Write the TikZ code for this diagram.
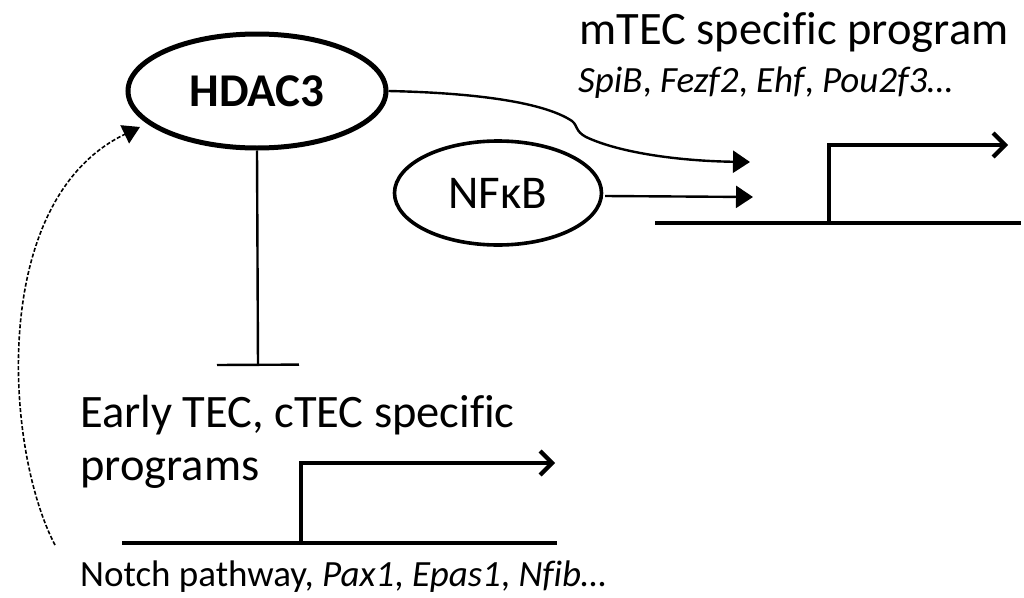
\documentclass[tikz,border=0pt]{standalone}
\usepackage{fontspec}
\setmainfont{Carlito}[Ligatures=NoCommon]
\usetikzlibrary{arrows.meta,shapes.geometric}
\begin{document}
\begin{tikzpicture}[x=1pt,y=-1pt,
  txt/.style={inner sep=0pt,anchor=base west},
  big/.style={font=\fontsize{46.5}{53}\selectfont},
  small/.style={font=\fontsize{37}{42}\selectfont\itshape},
  oval/.style={draw,ellipse,inner sep=0pt},
  act/.style={line width=2.4pt,-{Triangle[length=17pt,width=22pt]}},
  inhib/.style={line width=2.4pt,-{Bar[width=82pt]}},
  gene/.style={line width=4.2pt},
  prom/.style={line width=4.2pt,-{Straight Barb[length=12pt,width=24pt,line width=4.2pt]}},
  fb/.style={line width=1.6pt,dash pattern=on 4pt off 2pt,-{Triangle[length=17pt,width=20pt]}}]
\useasboundingbox (0,0) rectangle (1024,597);
% nodes
\node[oval,line width=5pt,minimum width=258pt,minimum height=114pt,
  font=\fontsize{47}{50}\selectfont\bfseries] (hdac) at (257,91) {HDAC3};
\node[oval,line width=3.6pt,minimum width=207pt,minimum height=104pt,
  font=\fontsize{47}{50}\selectfont] (nfkb) at (498,193) {NFκB};
\node[txt,big] (mtec) at (579,44) {mTEC specific program};
\node[txt,small] (mgenes) at (578,92) {SpiB\upshape, \itshape Fezf2\upshape, \itshape Ehf\upshape, \itshape Pou2f3…};
\node[txt,big,align=left] (early) at (80,480) {Early TEC, cTEC specific\\programs};
\node[txt,font=\fontsize{37}{42}\selectfont] (notch) at (80,586) {Notch pathway, \itshape Pax1\upshape, \itshape Epas1\upshape, \itshape Nfib…};
% coordinates
\coordinate (tbar) at (258,366);
\coordinate (tip1) at (750,162);
\coordinate (tip2) at (753,197);
\coordinate (nstart) at (605,196);
\coordinate (g1a) at (655,223);
\coordinate (g1b) at (1021,223);
\coordinate (p1) at (829,223);
\coordinate (p1top) at (829,145);
\coordinate (p1tip) at (1008,145);
\coordinate (g2a) at (122,543);
\coordinate (g2b) at (557,543);
\coordinate (p2) at (301,543);
\coordinate (p2top) at (301,463);
\coordinate (p2tip) at (555,463);
\coordinate (fbstart) at (55,545);
\coordinate (fbtip) at (140,127);
% connectors
\draw[inhib] (hdac.south) -- (tbar);
\draw[act] (hdac.east) .. controls (480,93) and (545,103) .. (572,121)
  .. controls (578,126) and (575,131) .. (586,137)
  .. controls (620,153) and (680,161) .. (tip1);
\draw[act] (nstart) -- (tip2);
\draw[gene] (g1a) -- (g1b);
\draw[prom] (p1) -- (p1top) -- (p1tip);
\draw[gene] (g2a) -- (g2b);
\draw[prom] (p2) -- (p2top) -- (p2tip);
\draw[fb] (fbstart) .. controls (5,450) and (-12,200) .. (fbtip);
\end{tikzpicture}
\end{document}
